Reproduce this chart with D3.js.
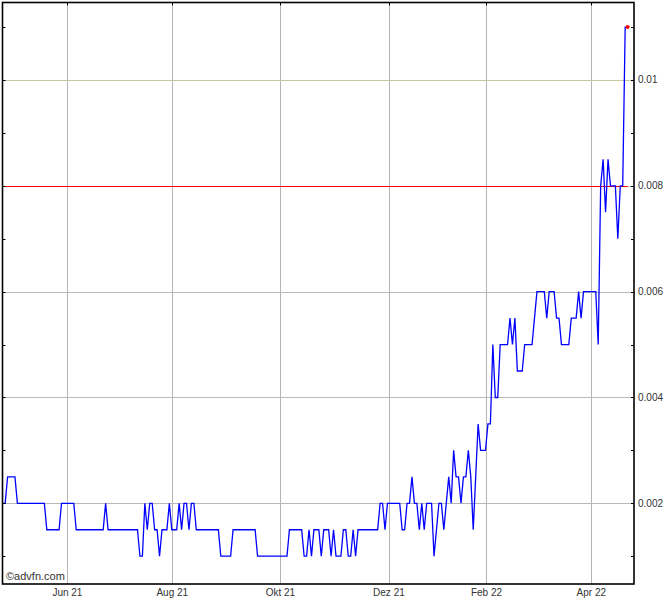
<!DOCTYPE html>
<html>
<head>
<meta charset="utf-8">
<script src="https://cdn.jsdelivr.net/npm/d3@7"></script>
<style>
  html, body { margin: 0; padding: 0; background: #fff; }
  svg { display: block; }
  text { font-family: "Liberation Sans", Arial, sans-serif; fill: #333; }
</style>
</head>
<body>
<svg id="chart" width="670" height="600"></svg>
<script>
// ---- data ----
const prices = [
  0.002, 0.002,
  0.0025, 0.0025, 0.0025, 0.0025,
  0.002, 0.002, 0.002, 0.002, 0.002, 0.002, 0.002, 0.002, 0.002, 0.002, 0.002, 0.002,
  0.0015, 0.0015, 0.0015, 0.0015, 0.0015, 0.0015,
  0.002, 0.002, 0.002, 0.002, 0.002, 0.002,
  0.0015, 0.0015, 0.0015, 0.0015, 0.0015, 0.0015, 0.0015, 0.0015, 0.0015, 0.0015, 0.0015, 0.0015,
  0.002,
  0.0015, 0.0015, 0.0015, 0.0015, 0.0015, 0.0015, 0.0015, 0.0015, 0.0015, 0.0015, 0.0015, 0.0015, 0.0015,
  0.001, 0.001,
  0.002, 0.0015, 0.002, 0.002, 0.0015, 0.0015, 0.001,
  0.0015, 0.0015, 0.0015,
  0.002, 0.0015, 0.0015, 0.0015, 0.002, 0.0015, 0.002, 0.002, 0.0015, 0.002, 0.002,
  0.0015, 0.0015, 0.0015, 0.0015, 0.0015, 0.0015, 0.0015, 0.0015, 0.0015, 0.0015,
  0.001, 0.001, 0.001, 0.001, 0.001,
  0.0015, 0.0015, 0.0015, 0.0015, 0.0015, 0.0015, 0.0015, 0.0015, 0.0015, 0.0015,
  0.001, 0.001, 0.001, 0.001, 0.001, 0.001, 0.001, 0.001, 0.001, 0.001, 0.001, 0.001, 0.001,
  0.0015, 0.0015, 0.0015, 0.0015, 0.0015, 0.0015,
  0.001, 0.001, 0.0015, 0.001, 0.0015, 0.0015, 0.0015, 0.001,
  0.0015, 0.0015, 0.0015, 0.001, 0.0015, 0.001, 0.001, 0.001,
  0.0015, 0.0015, 0.001, 0.001, 0.0015, 0.001,
  0.0015, 0.0015, 0.0015, 0.0015, 0.0015, 0.0015, 0.0015, 0.0015, 0.0015,
  0.002, 0.002, 0.0015,
  0.002, 0.002, 0.002, 0.002, 0.002, 0.002,
  0.0015, 0.0015, 0.002, 0.002, 0.0025, 0.002, 0.002, 0.0015, 0.002, 0.0015,
  0.002, 0.002, 0.002, 0.001, 0.0015, 0.002, 0.002, 0.0015, 0.002, 0.0025, 0.002,
  0.003, 0.0025, 0.0025, 0.002, 0.0025, 0.0025, 0.003, 0.0025, 0.0015, 0.0025,
  0.0035, 0.003, 0.003, 0.003, 0.0035, 0.0035,
  0.005, 0.004, 0.004, 0.005, 0.005, 0.005, 0.005, 0.0055, 0.005, 0.0055,
  0.0045, 0.0045, 0.0045, 0.005, 0.005, 0.005, 0.005, 0.0055,
  0.006, 0.006, 0.006, 0.006, 0.0055, 0.006, 0.006, 0.006, 0.0055, 0.0055,
  0.005, 0.005, 0.005, 0.005, 0.0055, 0.0055, 0.0055, 0.006, 0.0055,
  0.006, 0.006, 0.006, 0.006, 0.006, 0.006,
  0.005, 0.008, 0.0085, 0.0075, 0.0085, 0.008, 0.008, 0.008, 0.007, 0.008, 0.008,
  0.011, 0.011
];
const monthLabels = ["Jun 21", "Aug 21", "Okt 21", "Dez 21", "Feb 22", "Apr 22"];
const monthPositions = [26.4, 69.2, 113.3, 157.6, 197.4, 240.2]; // trading-day index of month start
const yLabelTicks = [0.002, 0.004, 0.006, 0.008, 0.01];
const yMinorTicks = [0.001, 0.003, 0.005, 0.007, 0.009, 0.011];
const referenceLevel = 0.008;

// ---- layout ----
const svg = d3.select("#chart");
const L = 2.5, R = 634, T = 2.5, B = 584;

const x = d3.scaleLinear().domain([0, 257.6]).range([2.7, R]);
const y = d3.scaleLinear().domain([0.000475, 0.011474]).range([B, 2]);

// vertical grid
svg.append("g").selectAll("line").data(monthPositions).join("line")
  .attr("x1", d => Math.round(x(d)) + 0.5).attr("x2", d => Math.round(x(d)) + 0.5)
  .attr("y1", T).attr("y2", B)
  .attr("stroke", "#b4b4b4").attr("stroke-width", 1);

// horizontal grid
svg.append("g").selectAll("line").data(yLabelTicks).join("line")
  .attr("x1", L).attr("x2", R)
  .attr("y1", d => Math.round(y(d)) + 0.5).attr("y2", d => Math.round(y(d)) + 0.5)
  .attr("stroke", d => d === 0.01 ? "#c6c6a6" : "#b8b8b8").attr("stroke-width", 1);

// reference line
svg.append("line")
  .attr("x1", L).attr("x2", x(prices.length - 1))
  .attr("y1", Math.round(y(referenceLevel)) + 0.5).attr("y2", Math.round(y(referenceLevel)) + 0.5)
  .attr("stroke", "#ff0000").attr("stroke-width", 1);

// price line
svg.append("path")
  .datum(prices)
  .attr("fill", "none")
  .attr("stroke", "#0000ff")
  .attr("stroke-width", 1.3)
  .attr("stroke-linejoin", "miter")
  .attr("d", d3.line().x((d, i) => x(i)).y(d => y(d)));

// last point dot
svg.append("circle")
  .attr("cx", x(prices.length - 1)).attr("cy", y(prices[prices.length - 1]))
  .attr("r", 2).attr("fill", "#ff0000");

// frame
svg.append("rect")
  .attr("x", L).attr("y", T).attr("width", R - L).attr("height", B - T)
  .attr("fill", "none").attr("stroke", "#000").attr("stroke-width", 1.6);

// ticks left & right (inward)
const allY = yLabelTicks.concat(yMinorTicks);
svg.append("g").selectAll("line").data(allY).join("line")
  .attr("x1", L).attr("x2", L + 3)
  .attr("y1", d => Math.round(y(d)) + 0.5).attr("y2", d => Math.round(y(d)) + 0.5)
  .attr("stroke", "#000").attr("stroke-width", 1);
svg.append("g").selectAll("line").data(allY).join("line")
  .attr("x1", R - 3).attr("x2", R)
  .attr("y1", d => Math.round(y(d)) + 0.5).attr("y2", d => Math.round(y(d)) + 0.5)
  .attr("stroke", "#000").attr("stroke-width", 1);

// top ticks at months
svg.append("g").selectAll("line").data(monthPositions).join("line")
  .attr("x1", d => Math.round(x(d)) + 0.5).attr("x2", d => Math.round(x(d)) + 0.5)
  .attr("y1", T).attr("y2", T + 3)
  .attr("stroke", "#000").attr("stroke-width", 1);

// right labels
svg.append("g").selectAll("text").data(yLabelTicks).join("text")
  .attr("x", 638).attr("y", d => y(d) + 3.5)
  .attr("font-size", "10px")
  .text(d => d3.format("")(d));

// bottom labels
svg.append("g").selectAll("text").data(monthLabels).join("text")
  .attr("x", (d, i) => x(monthPositions[i])).attr("y", 596)
  .attr("text-anchor", "middle")
  .attr("font-size", "10px")
  .text(d => d);

// watermark
svg.append("text")
  .attr("x", 6).attr("y", 580)
  .attr("font-size", "11px").attr("fill", "#333")
  .text("©advfn.com");
</script>
</body>
</html>
